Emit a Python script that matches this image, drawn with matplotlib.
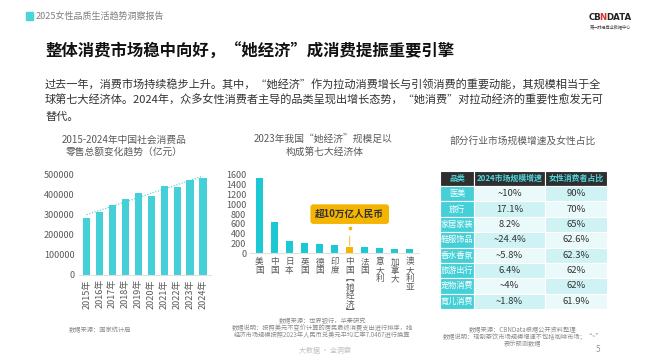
import numpy as np
import matplotlib
matplotlib.use("Agg")
import matplotlib.pyplot as plt
from matplotlib.patches import Rectangle

plt.rcParams['font.family'] = ['Noto Sans CJK SC', 'DejaVu Sans']

# --- dados ---
anos = ['2015年', '2016年', '2017年', '2018年', '2019年', '2020年', '2021年', '2022年', '2023年', '2024年']
varejo = [286500, 316000, 350000, 380000, 410000, 393000, 443000, 440000, 475000, 487000]

paises = ['美国', '中国', '日本', '英国', '德国', '印度', '中国︻她经济︼', '法国', '意大利', '加拿大', '澳大利亚']
consumo = [1535, 648, 252, 205, 190, 177, 135, 135, 102, 95, 82]
destaque = 6

tab_header = ['品类', '2024市场规模增速', '女性消费者占比']
categorias = ['医美', '旅行', '家居家装', '鞋服饰品', '香水香氛', '旅游出行', '宠物消费', '育儿消费']
crescimento = ['~10%', '17.1%', '8.2%', '~24.4%', '~5.8%', '6.4%', '~4%', '~1.8%']
fem = ['90%', '70%', '65%', '62.6%', '62.3%', '62%', '62%', '61.9%']

W, H = 650, 364
TEAL = '#45D0D8'
YELLOW = '#F5B400'
GRAY = '#595959'
LGRAY = '#8c8c8c'

def px(x, y):
    return x / W, 1 - y / H

fig = plt.figure(figsize=(6.5, 3.64), dpi=100)
fig.patch.set_facecolor('white')

# --- cabeçalho ---
fig.patches.append(Rectangle(px(26, 20), 7 / W, 8 / H, transform=fig.transFigure, color='#4DD3DA'))
fig.text(*px(36, 16), '2025女性品质生活趋势洞察报告', fontsize=6.5, color='#7f7f7f', va='center')

# logo
for parte, cor, xl in [('CB', '#222222', 589), ('N', '#d9302c', 599.2), ('DATA', '#222222', 606.6)]:
    fig.text(*px(xl, 17), parte, fontsize=6.2, fontweight='bold', color=cor, va='center',
             family='DejaVu Sans')
fig.text(*px(611, 27), '第一财经商业数据中心', fontsize=3, color='#444444', va='center', ha='center')

fig.text(*px(45, 52), '整体消费市场稳中向好，“她经济”成消费提振重要引擎', fontsize=11.8,
         fontweight='bold', color='#111111', va='center')

paragrafo = ['过去一年，消费市场持续稳步上升。其中，“她经济”作为拉动消费增长与引领消费的重要动能，其规模相当于全',
             '球第七大经济体。2024年，众多女性消费者主导的品类呈现出增长态势，“她消费”对拉动经济的重要性愈发无可',
             '替代。']
for k, linha in enumerate(paragrafo):
    fig.text(*px(45, 84 + k * 16.5), linha, fontsize=8.05, color='#333333', va='center')

# --- gráfico 1: varejo ---
ax1 = fig.add_axes([78.9 / W, 1 - 275 / H, 132 / W, 104 / H])
x = np.arange(len(anos))
ax1.bar(x, varejo, width=0.58, color=TEAL)
coef = np.polyfit(x, varejo, 1)
ax1.plot(x, np.polyval(coef, x), linestyle=(0, (1, 1.5)), color=TEAL, lw=0.8)
ax1.set_xlim(-0.6, len(anos) - 0.4)
ax1.set_ylim(0, 520000)
ax1.set_yticks(range(0, 500001, 100000))
ax1.set_xticks(x)
ax1.set_xticklabels(anos, rotation=90)
ax1.tick_params(length=0, labelsize=6.5, labelcolor=GRAY, pad=3)
for s in ['top', 'right', 'left']:
    ax1.spines[s].set_visible(False)
ax1.spines['bottom'].set_color('#e0e0e0')
fig.text(*px(124, 140), '2015-2024年中国社会消费品', fontsize=7, color=GRAY, ha='center', va='center')
fig.text(*px(124, 152), '零售总额变化趋势（亿元）', fontsize=7, color=GRAY, ha='center', va='center')
fig.text(*px(100, 330), '数据来源：国家统计局', fontsize=4.5, color=LGRAY, ha='center', va='center')

# --- gráfico 2: she economy ---
ax2 = fig.add_axes([250.3 / W, 1 - 253.3 / H, 168.7 / W, 83.2 / H])
x2 = np.arange(len(paises))
cores = [YELLOW if i == destaque else '#1CC9D3' for i in x2]
ax2.bar(x2, consumo, width=0.46, color=cores)
ax2.set_xlim(-0.6, len(paises) - 0.4)
ax2.set_ylim(0, 1700)
ax2.set_yticks(range(0, 1601, 200))
ax2.set_xticks(x2)
ax2.set_xticklabels(['\n'.join(p) for p in paises], linespacing=0.92, va='top')
ax2.tick_params(length=0, labelsize=6.5, labelcolor=GRAY, pad=3)
ax2.tick_params(axis='x', labelsize=6.2)
for s in ['top', 'right', 'left']:
    ax2.spines[s].set_visible(False)
ax2.spines['bottom'].set_color('#e0e0e0')
ax2.annotate('超10万亿人民币', xy=(destaque, consumo[destaque] + 15), xytext=(destaque, 800),
             ha='center', va='center', fontsize=6.9, fontweight='bold', color='#333333',
             bbox=dict(boxstyle='round,pad=0.5,rounding_size=0.3', fc=YELLOW, ec='none'),
             arrowprops=dict(arrowstyle='-', color=YELLOW, lw=0.6, shrinkA=9, shrinkB=0))
ax2.plot([destaque], [520], 'o', color=YELLOW, ms=1.6)
fig.text(*px(323, 140), '2023年我国“她经济”规模足以', fontsize=7, color=GRAY, ha='center', va='center')
fig.text(*px(325, 152), '构成第七大经济体', fontsize=7, color=GRAY, ha='center', va='center')
fig.text(*px(322, 321), '数据来源：世界银行，华泰研究', fontsize=4.5, color=LGRAY, ha='center', va='center')
fig.text(*px(322, 328), '数据说明：按照美元不变价计算的居民最终消费支出进行排序，她', fontsize=4.5, color=LGRAY, ha='center', va='center')
fig.text(*px(322, 335), '经济市场规模按照2023年人民币兑美元平均汇率7.0467进行换算', fontsize=4.5, color=LGRAY, ha='center', va='center')

# --- tabela ---
fig.text(*px(523, 141), '部分行业市场规模增速及女性占比', fontsize=7, color=GRAY, ha='center', va='center')
ax3 = fig.add_axes([440 / W, 1 - 309 / H, 167 / W, 138 / H])
ax3.axis('off')
linhas = [[c, g, f] for c, g, f in zip(categorias, crescimento, fem)]
tab = ax3.table(cellText=linhas, colLabels=tab_header, bbox=[0, 0, 1, 1],
                colWidths=[34 / 167, 71 / 167, 62 / 167], cellLoc='center')
tab.auto_set_font_size(False)
h_head = 15 / 138
h_row = (1 - h_head) / len(categorias)
for (r, c), cell in tab.get_celld().items():
    cell.set_edgecolor('white')
    cell.set_linewidth(0.8)
    cell.PAD = 0.02
    if r == 0:
        cell.set_height(h_head)
        cell.set_facecolor('#2f2f2f')
        cell.get_text().set_color('#4FD6DD')
        cell.get_text().set_fontweight('bold')
        cell.get_text().set_fontsize(5.7)
    else:
        cell.set_height(h_row)
        if c == 0:
            cell.set_facecolor(TEAL)
            cell.get_text().set_color('white')
            cell.get_text().set_fontsize(5.9)
        else:
            claro = (r + c) % 2 == 0
            cell.set_facecolor('#EAF9FA' if claro else '#CFF2F4')
            cell.get_text().set_color('#333333')
            cell.get_text().set_fontsize(6.8)
fig.text(*px(523, 330), '数据来源：CBNData根据公开资料整理', fontsize=4.5, color=LGRAY, ha='center', va='center')
fig.text(*px(523, 337), '数据说明：现制茶饮市场规模增速不包括咖啡市场；“~”', fontsize=4.5, color=LGRAY, ha='center', va='center')
fig.text(*px(523, 344), '表示预测数据', fontsize=4.5, color=LGRAY, ha='center', va='center')

# --- rodapé ---
fig.text(*px(325, 351), '大数据 · 全洞察', fontsize=5, color='#bfbfbf', ha='center', va='center')
fig.text(*px(598, 349), '5', fontsize=6, color='#999999', ha='center', va='center')

fig.savefig('out.png', dpi=100)
